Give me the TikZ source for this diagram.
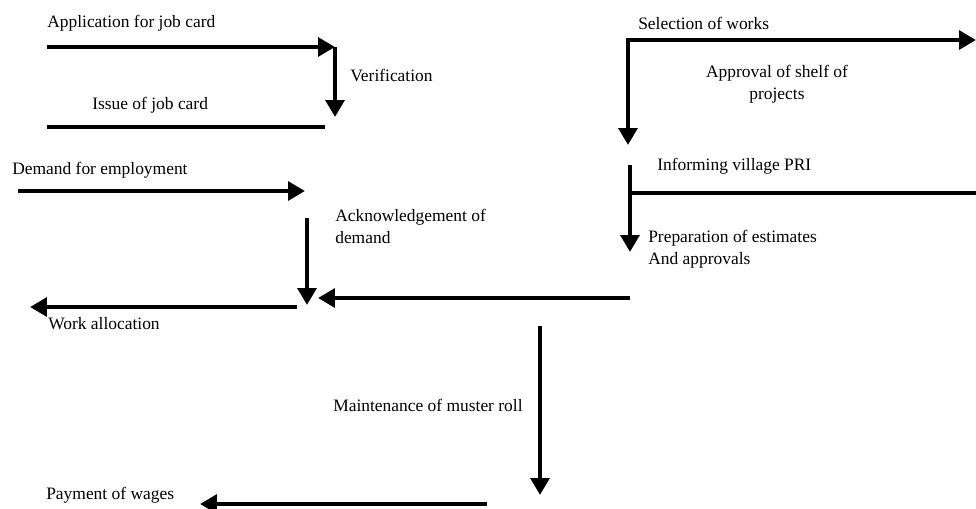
\documentclass[tikz,border=0pt]{standalone}
\usepackage{fontspec}
\setmainfont{Liberation Serif}
\usetikzlibrary{arrows.meta}

\begin{document}
\begin{tikzpicture}[x=0.025cm, y=-0.025cm,
    flow/.style={line width=3.5pt, -{Triangle[length=0.42cm, width=0.46cm]}},
    twoway/.style={line width=3.5pt, {Triangle[length=0.42cm, width=0.46cm]}-{Triangle[length=0.42cm, width=0.46cm]}},
    bar/.style={line width=3.5pt},
    lbl/.style={anchor=west, inner sep=0pt, font=\fontsize{12.4}{15.6}\selectfont, align=left}]
    \useasboundingbox (0,0) rectangle (976,508);
    % job card
    \coordinate (app0) at (47,47);
    \coordinate (app1) at (335,47);
    \coordinate (ver1) at (335,117);
    \coordinate (iss0) at (47,127);
    \coordinate (iss1) at (325,127);
    \draw [flow] (app0) -- (app1);
    \draw [flow] (app1) -- (ver1);
    \draw [bar] (iss0) -- (iss1);
    \node [lbl] (app) at (47,23) {Application for job card};
    \node [lbl] (ver) at (350,75) {Verification};
    \node [lbl] (iss) at (92,105) {Issue of job card};
    % works
    \coordinate (sel0) at (628,145);
    \coordinate (selc) at (628,40);
    \coordinate (sel1) at (976,40);
    \draw [twoway] (sel0) -- (selc) -- (sel1);
    \node [lbl] (sel) at (638,23) {Selection of works};
    \node [lbl, anchor=center, align=center] (shelf) at (777,84) {Approval of shelf of\\projects};
    \coordinate (inf0) at (630,165);
    \coordinate (inf1) at (630,252);
    \coordinate (infc) at (630,193);
    \coordinate (inf2) at (976,193);
    \draw [flow] (inf0) -- (inf1);
    \draw [bar] (infc) -- (inf2);
    \node [lbl] (inf) at (657,166) {Informing village PRI};
    \node [lbl] (prep) at (648,249) {Preparation of estimates\\And approvals};
    % demand
    \coordinate (dem0) at (18,191);
    \coordinate (dem1) at (305,191);
    \coordinate (ack0) at (307,218);
    \coordinate (ack1) at (307,305);
    \coordinate (est0) at (630,298);
    \coordinate (est1) at (318,298);
    \coordinate (wrk0) at (297,307);
    \coordinate (wrk1) at (30,307);
    \draw [flow] (dem0) -- (dem1);
    \draw [flow] (ack0) -- (ack1);
    \draw [flow] (est0) -- (est1);
    \draw [flow] (wrk0) -- (wrk1);
    \node [lbl] (dem) at (12,170) {Demand for employment};
    \node [lbl] (ack) at (335,226) {Acknowledgement of\\demand};
    \node [lbl] (wrk) at (48,324) {Work allocation};
    % wages
    \coordinate (mus0) at (540,326);
    \coordinate (mus1) at (540,495);
    \coordinate (pay0) at (487,504);
    \coordinate (pay1) at (200,504);
    \draw [flow] (mus0) -- (mus1);
    \draw [flow] (pay0) -- (pay1);
    \node [lbl] (mus) at (333,405) {Maintenance of muster roll};
    \node [lbl] (pay) at (46,495) {Payment of wages};
\end{tikzpicture}
\end{document}
